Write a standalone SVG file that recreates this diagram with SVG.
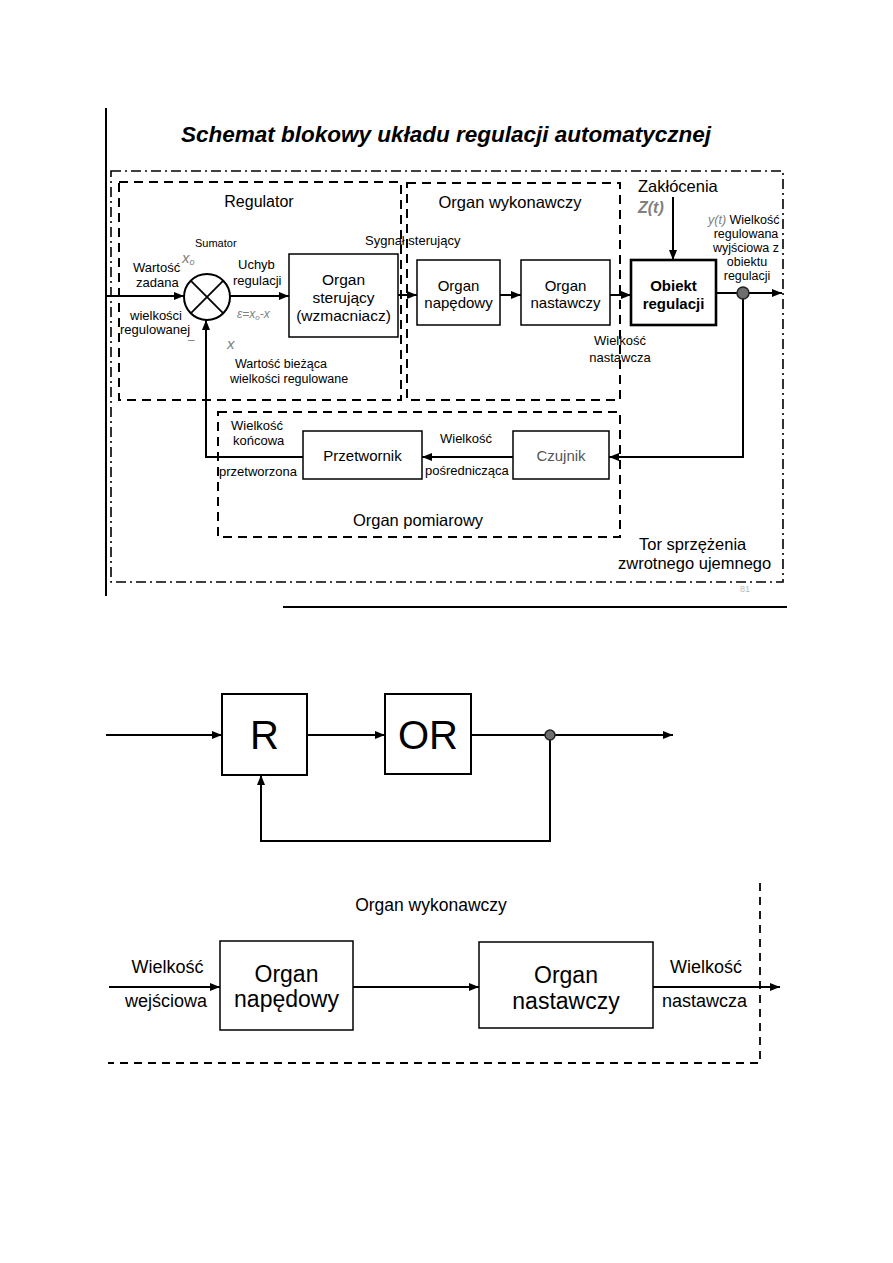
<svg xmlns="http://www.w3.org/2000/svg" width="893" height="1263" viewBox="0 0 893 1263">
<defs>
<style>
.t{font-family:"Liberation Sans",Arial,sans-serif;fill:#000}
.c{text-anchor:middle}
.gr{fill:#808080;font-style:italic}
.box{fill:#fff;stroke:#000;stroke-width:1.5}
.ln{fill:none;stroke:#000;stroke-width:2}
.dash{fill:none;stroke:#000;stroke-width:2;stroke-dasharray:9 6}
.dd{fill:none;stroke:#000;stroke-width:1.6;stroke-dasharray:10 4 2 4}
</style>
<marker id="ar" markerUnits="userSpaceOnUse" markerWidth="10" markerHeight="8" refX="10" refY="4" orient="auto">
<path d="M0,0 L10,4 L0,8 z" fill="#000"/>
</marker>
</defs>
<rect width="893" height="1263" fill="#fff"/>

<!-- ===== Top diagram ===== -->
<g id="frame-top">
<line x1="106" y1="108" x2="106" y2="596" stroke="#000" stroke-width="2"/>
<text class="t c" x="446" y="142" font-size="22.5" font-weight="bold" font-style="italic">Schemat blokowy układu regulacji automatycznej</text>
<rect class="dd" x="111" y="171" width="672" height="411"/>
<line x1="283" y1="607" x2="787" y2="607" stroke="#000" stroke-width="2"/>
<text class="t" x="740" y="592" font-size="9" style="fill:#bbb">81</text>
</g>

<g id="regulator-group">
<rect class="dash" x="119" y="182" width="282" height="218"/>
<text class="t c" x="259" y="207" font-size="16">Regulator</text>
</g>
<g id="organ-wykonawczy-group">
<rect class="dash" x="407" y="183" width="213" height="217"/>
<text class="t c" x="510" y="208" font-size="16.5">Organ wykonawczy</text>
</g>
<g id="organ-pomiarowy-group">
<rect class="dash" x="218" y="412" width="402" height="125"/>
<text class="t c" x="418" y="526" font-size="16.5">Organ pomiarowy</text>
</g>

<g id="sumator">
<circle cx="207" cy="297" r="23" fill="#fff" stroke="#000" stroke-width="2"/>
<line x1="190.7" y1="280.7" x2="223.3" y2="313.3" stroke="#000" stroke-width="1.8"/>
<line x1="223.3" y1="280.7" x2="190.7" y2="313.3" stroke="#000" stroke-width="1.8"/>
<text class="t" x="195" y="247" font-size="11">Sumator</text>
<text class="t gr" x="182" y="263" font-size="15">x<tspan font-size="9" dy="2">o</tspan></text>
<text class="t gr" x="188" y="344" font-size="12" style="font-style:normal">–</text>
<text class="t gr" x="227" y="349" font-size="15">x</text>
</g>

<g id="organ-sterujacy">
<rect class="box" x="289" y="254" width="109" height="83"/>
<text class="t c" x="343.5" y="285" font-size="15.5">Organ</text>
<text class="t c" x="343.5" y="303" font-size="15.5">sterujący</text>
<text class="t c" x="343.5" y="321" font-size="15.5">(wzmacniacz)</text>
</g>
<g id="organ-napedowy">
<rect class="box" x="417" y="260" width="83" height="65"/>
<text class="t c" x="458.5" y="291" font-size="15">Organ</text>
<text class="t c" x="458.5" y="308" font-size="15">napędowy</text>
</g>
<g id="organ-nastawczy">
<rect class="box" x="521" y="260" width="89" height="65"/>
<text class="t c" x="565.5" y="291" font-size="15">Organ</text>
<text class="t c" x="565.5" y="308" font-size="15">nastawczy</text>
</g>
<g id="obiekt-regulacji">
<rect x="631" y="260" width="85" height="65" fill="#fff" stroke="#000" stroke-width="2.6"/>
<text class="t c" x="673.5" y="291" font-size="15" font-weight="bold">Obiekt</text>
<text class="t c" x="673.5" y="309" font-size="15" font-weight="bold">regulacji</text>
</g>
<g id="przetwornik">
<rect class="box" x="303" y="431" width="119" height="48"/>
<text class="t c" x="362.5" y="461" font-size="15">Przetwornik</text>
</g>
<g id="czujnik">
<rect class="box" x="513" y="431" width="96" height="48"/>
<text class="t c" x="561" y="461" font-size="15" style="fill:#555">Czujnik</text>
</g>

<g id="labels-top">
<text class="t" x="133" y="272" font-size="13">Wartość</text>
<text class="t" x="136" y="287" font-size="13">zadana</text>
<text class="t" x="238" y="269" font-size="13">Uchyb</text>
<text class="t" x="233" y="285" font-size="13">regulacji</text>
<text class="t gr" x="237" y="318" font-size="12">ε=x<tspan font-size="8" dy="2">o</tspan><tspan dy="-2">-x</tspan></text>
<text class="t" x="130" y="320" font-size="13">wielkości</text>
<text class="t" x="120" y="334" font-size="13">regulowanej</text>
<text class="t" x="235" y="368" font-size="12.5">Wartość bieżąca</text>
<text class="t" x="230" y="383" font-size="12.5">wielkości regulowane</text>
<text class="t" x="365" y="245" font-size="13">Sygnał sterujący</text>
<text class="t" x="638" y="192" font-size="16.5">Zakłócenia</text>
<text class="t gr" x="638" y="213" font-size="16" font-weight="bold">Z(t)</text>
<text class="t" x="708" y="224" font-size="12.5"><tspan class="gr">y(t)</tspan> Wielkość</text>
<text class="t c" x="746" y="238" font-size="12.5">regulowana</text>
<text class="t c" x="746" y="252" font-size="12.5">wyjściowa z</text>
<text class="t c" x="747" y="266" font-size="12.5">obiektu</text>
<text class="t c" x="747" y="280" font-size="12.5">regulacji</text>
<text class="t c" x="620" y="345" font-size="13">Wielkość</text>
<text class="t c" x="620" y="362" font-size="13">nastawcza</text>
<text class="t c" x="466" y="443" font-size="13">Wielkość</text>
<text class="t" x="425" y="475" font-size="13">pośrednicząca</text>
<text class="t" x="231" y="430" font-size="13">Wielkość</text>
<text class="t" x="233" y="445" font-size="13">końcowa</text>
<text class="t" x="219" y="476" font-size="13">przetworzona</text>
<text class="t" x="639" y="550" font-size="16.5">Tor sprzężenia</text>
<text class="t" x="618" y="569" font-size="16.5">zwrotnego ujemnego</text>
</g>

<g id="connectors-top">
<path class="ln" d="M106,296 H184" marker-end="url(#ar)"/>
<path class="ln" d="M230,296 H289" marker-end="url(#ar)"/>
<path class="ln" d="M398,295 H417" marker-end="url(#ar)"/>
<path class="ln" d="M500,295 H521" marker-end="url(#ar)"/>
<path class="ln" d="M610,295 H631" marker-end="url(#ar)"/>
<path class="ln" d="M673,197 V260" marker-end="url(#ar)"/>
<path class="ln" d="M716,293 H782" marker-end="url(#ar)"/>
<path class="ln" d="M743,293 V457 H609" marker-end="url(#ar)"/>
<path class="ln" d="M513,457 H422" marker-end="url(#ar)"/>
<path class="ln" d="M303,457 H206 V320" marker-end="url(#ar)"/>
<circle cx="743" cy="293" r="6" fill="#6e6e6e" stroke="#222" stroke-width="1.5"/>
</g>

<!-- ===== Middle diagram ===== -->
<g id="R">
<rect x="222" y="694" width="85" height="81" fill="#fff" stroke="#000" stroke-width="2"/>
<text class="t c" x="264.5" y="749" font-size="40">R</text>
</g>
<g id="OR">
<rect x="385" y="694" width="86" height="80" fill="#fff" stroke="#000" stroke-width="2"/>
<text class="t c" x="428" y="749" font-size="40">OR</text>
</g>
<g id="connectors-middle">
<path class="ln" d="M106,735 H222" marker-end="url(#ar)"/>
<path class="ln" d="M307,735 H385" marker-end="url(#ar)"/>
<path class="ln" d="M471,735 H673" marker-end="url(#ar)"/>
<path class="ln" d="M550,735 V841 H261 V775" marker-end="url(#ar)"/>
<circle cx="550" cy="735" r="5" fill="#6e6e6e" stroke="#222" stroke-width="1.5"/>
</g>

<!-- ===== Bottom diagram ===== -->
<g id="organ-wykonawczy-detail">
<path d="M760,883 V1063 H108" fill="none" stroke="#000" stroke-width="1.8" stroke-dasharray="8 6"/>
<text class="t c" x="431" y="911" font-size="17.5">Organ wykonawczy</text>
</g>
<g id="organ-napedowy-2">
<rect class="box" x="220" y="941" width="133" height="89"/>
<text class="t c" x="286.5" y="982" font-size="23">Organ</text>
<text class="t c" x="286.5" y="1007" font-size="23">napędowy</text>
</g>
<g id="organ-nastawczy-2">
<rect class="box" x="479" y="942" width="174" height="86"/>
<text class="t c" x="566" y="983" font-size="23">Organ</text>
<text class="t c" x="566" y="1009" font-size="23">nastawczy</text>
</g>
<g id="labels-bottom">
<text class="t c" x="167.5" y="973" font-size="18">Wielkość</text>
<text class="t c" x="166" y="1007" font-size="18">wejściowa</text>
<text class="t c" x="706" y="973" font-size="18">Wielkość</text>
<text class="t c" x="704.5" y="1007" font-size="18">nastawcza</text>
</g>
<g id="connectors-bottom">
<path class="ln" d="M109,987 H220" marker-end="url(#ar)"/>
<path class="ln" d="M353,987 H479" marker-end="url(#ar)"/>
<path class="ln" d="M653,987 H780" marker-end="url(#ar)"/>
</g>
</svg>
